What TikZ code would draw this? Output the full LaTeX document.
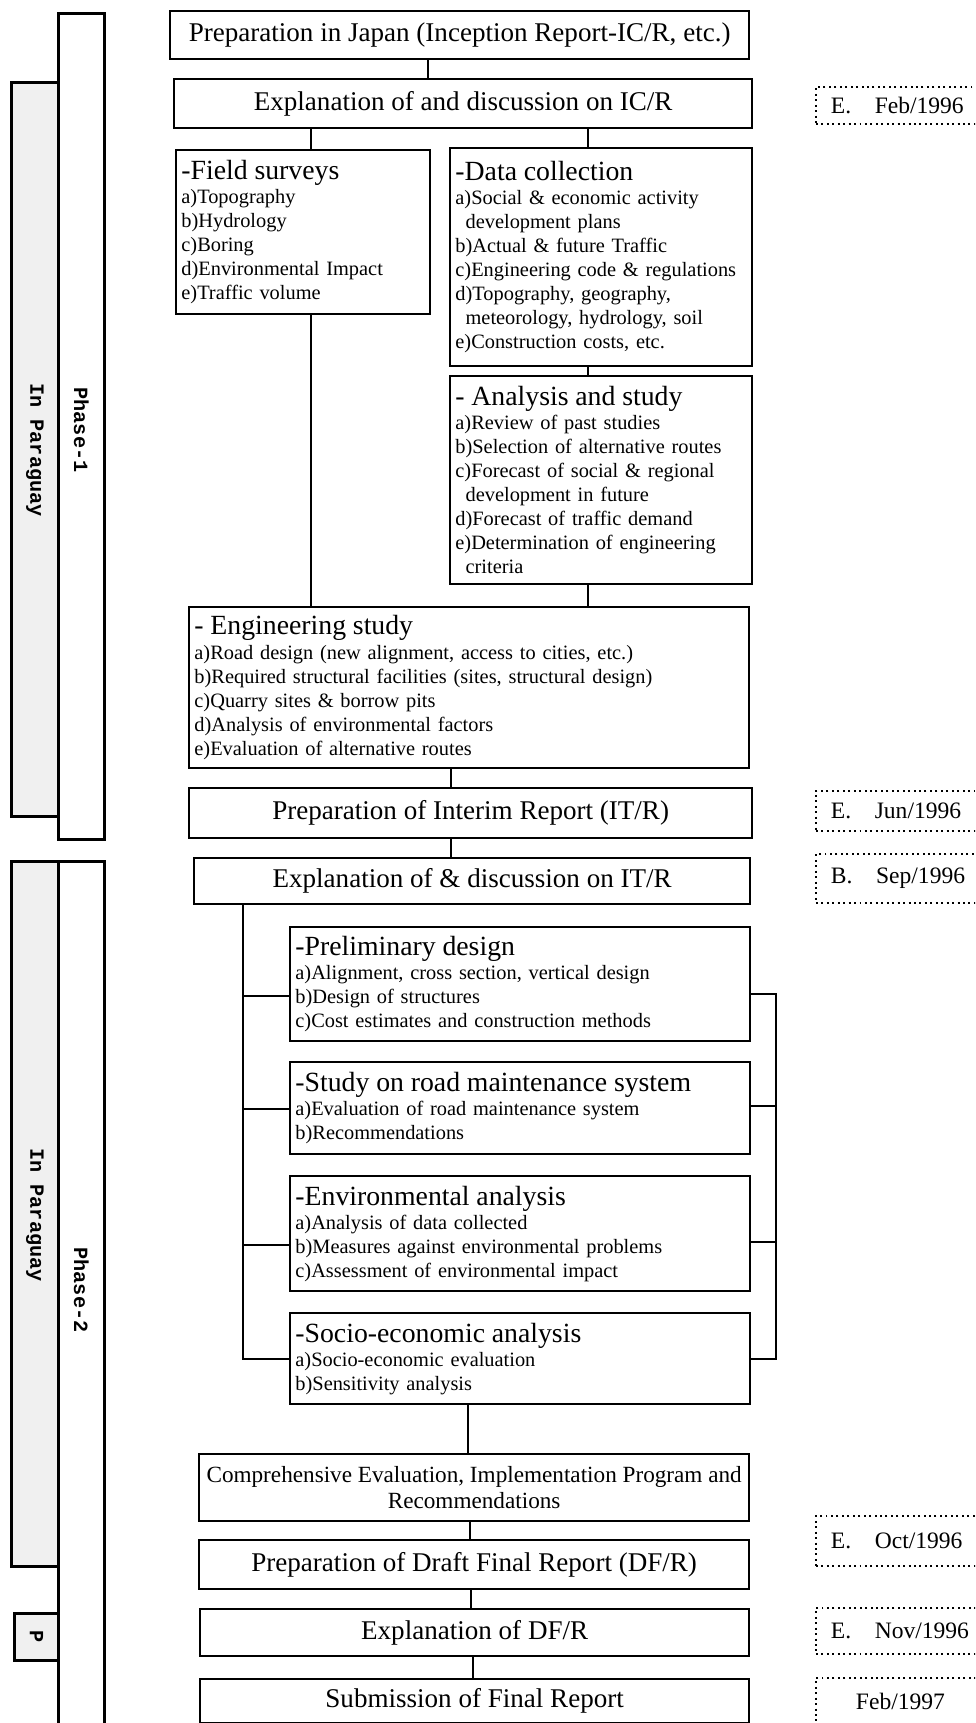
\documentclass[tikz,border=0pt]{standalone}
\usepackage{fontspec}
\setmainfont{Liberation Serif}
\newfontfamily\sidefont{Liberation Mono}
\tikzset{
wh/.style 2 args={minimum width=#1*0.02cm,minimum height=#2*0.02cm},
stepbox/.style={draw,line width=1.3pt,anchor=north west,inner sep=0pt,
  align=center,font=\fontsize{15.4}{17.5}\selectfont},
listbox/.style={draw,line width=1.3pt,anchor=north west,inner xsep=3pt,
  inner ysep=1pt,align=left,text width=#1,font=\fontsize{11.6}{13.7}\selectfont},
datebox/.style={draw,dotted,line width=1.1pt,anchor=north west,inner xsep=0.3cm,
  text width=3.1cm,align=left,font=\fontsize{13.4}{15}\selectfont},
phasebar/.style={draw,line width=1.6pt,fill=white,anchor=north west,inner sep=0pt},
placebar/.style={draw,line width=1.6pt,fill=gray!12,anchor=north west,inner sep=0pt},
sidetext/.style={rotate=-90,font=\sidefont\bfseries\fontsize{11.5}{13}\selectfont},
link/.style={line width=1.1pt},
}
\newcommand{\hd}[1]{{\fontsize{15.8}{17.5}\selectfont #1}}

\begin{document}
\begin{tikzpicture}[x=0.02cm,y=-0.02cm]
\useasboundingbox (0,0) rectangle (975,1723);
\clip (0,0) rectangle (975,1723);

% side bars
\node[placebar,wh={47}{734}] (pl1) at (10,81) {};
\node[phasebar,wh={46}{826}] (ph1) at (57,12) {};
\node[placebar,wh={47}{705}] (pl2) at (10,860) {};
\node[phasebar,wh={46}{900}] (ph2) at (57,860) {};
\node[placebar,wh={44}{47}] (pj) at (13,1612) {};
\node[sidetext] (tpl1) at (pl1.center |- 0,450) {In Paraguay};
\node[sidetext] (tph1) at (ph1.center |- 0,430) {Phase-1};
\node[sidetext] (tpl2) at (pl2.center |- 0,1215) {In Paraguay};
\node[sidetext] (tph2) at (ph2.center |- 0,1290) {Phase-2};
\node[sidetext] (tpj) at (pj.center) {P};

% phase 1
\node[stepbox,wh={579}{48}] (b1) at (169,10) {Preparation in Japan (Inception Report-IC/R, etc.)};
\node[stepbox,wh={578}{49}] (b2) at (173,78) {Explanation of and discussion on IC/R};
\node[listbox=4.87cm,wh={254}{164}] (fs) at (175,149) {\hd{-Field surveys}\\
  a)Topography\\ b)Hydrology\\ c)Boring\\ d)Environmental Impact\\ e)Traffic volume};
\node[listbox=5.83cm,wh={302}{218}] (dc) at (449,147) {\hd{-Data collection}\\
  a)Social \& economic activity\\ \hspace*{0.5em}development plans\\
  b)Actual \& future Traffic\\ c)Engineering code \& regulations\\
  d)Topography, geography,\\ \hspace*{0.5em}meteorology, hydrology, soil\\
  e)Construction costs, etc.};
\node[listbox=5.83cm,wh={302}{208}] (as) at (449,375) {\hd{- Analysis and study}\\
  a)Review of past studies\\ b)Selection of alternative routes\\
  c)Forecast of social \& regional\\ \hspace*{0.5em}development in future\\
  d)Forecast of traffic demand\\ e)Determination of engineering\\
  \hspace*{0.5em}criteria};
\node[listbox=10.99cm,wh={560}{161}] (es) at (188,606) {\hd{- Engineering study}\\
  a)Road design (new alignment, access to cities, etc.)\\
  b)Required structural facilities (sites, structural design)\\
  c)Quarry sites \& borrow pits\\ d)Analysis of environmental factors\\
  e)Evaluation of alternative routes};
\node[stepbox,wh={563}{50}] (ir) at (188,787) {Preparation of Interim Report (IT/R)};

% phase 2
\node[stepbox,wh={556}{46}] (ie) at (193,857) {Explanation of \& discussion on IT/R};
\node[listbox=8.99cm,wh={460}{114}] (pd) at (289,926) {\hd{-Preliminary design}\\
  a)Alignment, cross section, vertical design\\ b)Design of structures\\
  c)Cost estimates and construction methods};
\node[listbox=8.99cm,wh={460}{92}] (rm) at (289,1061) {\hd{-Study on road maintenance system}\\
  a)Evaluation of road maintenance system\\ b)Recommendations};
\node[listbox=8.99cm,wh={460}{115}] (ea) at (289,1175) {\hd{-Environmental analysis}\\
  a)Analysis of data collected\\ b)Measures against environmental problems\\
  c)Assessment of environmental impact};
\node[listbox=8.99cm,wh={460}{91}] (se) at (289,1312) {\hd{-Socio-economic analysis}\\
  a)Socio-economic evaluation\\ b)Sensitivity analysis};
\node[stepbox,wh={550}{67},font=\fontsize{13.2}{14.8}\selectfont] (ce) at (198,1453)
  {Comprehensive Evaluation, Implementation Program and\\ Recommendations};
\node[stepbox,wh={550}{49}] (df) at (198,1539) {Preparation of Draft Final Report (DF/R)};
\node[stepbox,wh={549}{47}] (xd) at (199,1608) {Explanation of DF/R};
\node[stepbox,wh={549}{44}] (sf) at (199,1678) {Submission of Final Report};

% dates
\node[datebox,wh={185}{37}] (d1) at (815,86) {E.\quad Feb/1996};
\node[datebox,wh={185}{40}] (d2) at (815,790) {E.\quad Jun/1996};
\node[datebox,wh={185}{49}] (d3) at (815,853) {B.\quad Sep/1996};
\node[datebox,wh={185}{50}] (d4) at (815,1515) {E.\quad Oct/1996};
\node[datebox,wh={185}{46}] (d5) at (815,1607) {E.\quad Nov/1996};
\node[datebox,wh={185}{46}] (d6) at (815,1677) {\hspace*{0.5cm}Feb/1997};

% links
\path[link] (b1.south -| 428,0) edge (b2.north -| 428,0);
\path[link] (b2.south -| 311,0) edge (fs.north -| 311,0);
\path[link] (b2.south -| 588,0) edge (dc.north -| 588,0);
\path[link] (dc.south -| 588,0) edge (as.north -| 588,0);
\path[link] (as.south -| 588,0) edge (es.north -| 588,0);
\path[link] (fs.south -| 311,0) edge (es.north -| 311,0);
\path[link] (es.south -| 451,0) edge (ir.north -| 451,0);
\path[link] (ir.south -| 451,0) edge (ie.north -| 451,0);
\draw[link] (ie.south -| 243,0) |- (se.west);
\draw[link] (pd.west |- 0,996) -- ++(-46,0);
\draw[link] (rm.west |- 0,1109) -- ++(-46,0);
\draw[link] (ea.west |- 0,1245) -- ++(-46,0);
\draw[link] (pd.east |- 0,994) -- ++(25,0) |- (se.east);
\draw[link] (rm.east |- 0,1106) -- ++(25,0);
\draw[link] (ea.east |- 0,1242) -- ++(25,0);
\path[link] (se.south -| 468,0) edge (ce.north -| 468,0);
\path[link] (ce.south -| 470,0) edge (df.north -| 470,0);
\path[link] (df.south -| 471,0) edge (xd.north -| 471,0);
\path[link] (xd.south -| 473,0) edge (sf.north -| 473,0);
\end{tikzpicture}
\end{document}
